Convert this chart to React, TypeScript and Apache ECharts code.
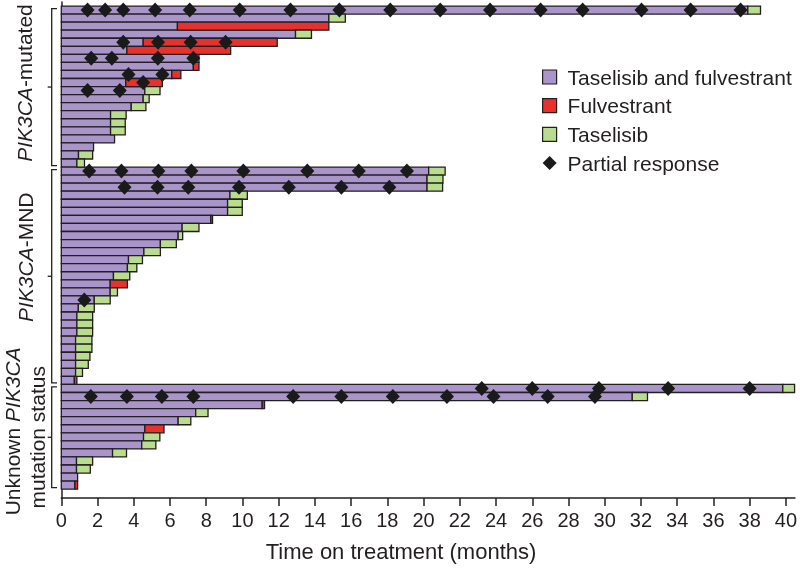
import React, { useEffect, useRef } from "react";
import * as echarts from "echarts";

// ---------- data (months) ----------
// PIK3CA-mutated (20 patients)
const mutatedCombo = [37.9, 14.77, 6.41, 12.93, 4.52, 3.62, 7.6, 7.29, 6.1, 3.56, 4.61, 4.52, 3.86, 2.72, 2.72, 2.72, 2.94, 1.78, 0.95, 0.86];
const mutatedFulv = [null, null, 14.77, null, 11.92, 9.35, null, 7.6, 6.6, 5.58, null, null, null, null, null, null, null, null, null, null];
const mutatedTasel = [38.6, 15.68, null, 13.81, null, null, null, null, null, null, 5.45, 4.85, 4.67, 3.58, 3.53, 3.53, null, null, 1.73, 1.28];
const mutatedPR: number[][] = [
  [1.45, 2.42, 3.42, 5.18, 7.09, 9.85, 12.65, 15.35, 18.16, 20.92, 23.67, 26.46, 28.78, 32.03, 34.74, 37.5],
  [], [], [],
  [3.42, 5.34, 7.14, 9.07],
  [],
  [1.65, 2.79, 5.33, 7.29],
  [],
  [3.71, 5.58],
  [4.52],
  [1.45, 3.23],
  [], [], [], [], [], [], [], [], [],
];

// PIK3CA-MND (27 patients)
const mndCombo = [20.28, 20.19, 20.19, 9.31, 9.18, 9.18, 8.25, 6.67, 6.45, 5.47, 4.56, 3.71, 3.65, 2.88, 2.7, 2.7, 1.82, 0.94, 0.86, 0.86, 0.86, 0.79, 0.79, 0.79, 0.79, 0.79, 0.72];
const mndFulv = [null, null, null, null, null, null, 8.35, null, null, null, null, null, null, null, 3.65, null, null, null, null, null, null, null, null, null, null, null, 0.86];
const mndTasel = [21.19, 21.07, 21.05, 10.27, 9.99, 9.99, null, 7.6, 6.7, 6.35, 5.47, 4.48, 4.17, 3.78, null, 3.1, 2.7, 1.82, 1.73, 1.73, 1.73, 1.69, 1.69, 1.58, 1.49, 1.17, null];
const mndPR: number[][] = [
  [1.54, 3.32, 5.36, 7.18, 10.05, 13.58, 16.42, 19.08],
  [],
  [3.49, 5.31, 7.01, 9.81, 12.56, 15.46, 18.11],
  [], [], [], [], [], [], [], [], [], [], [], [], [],
  [1.27],
  [], [], [], [], [], [], [], [], [], [],
];

// Unknown PIK3CA mutation status (13 patients)
const unknownCombo = [39.83, 31.52, 11.09, 7.42, 6.45, 4.61, 4.54, 4.44, 2.83, 0.84, 0.84, 0.9, 0.75];
const unknownFulv = [null, null, 11.22, null, null, 5.67, null, null, null, null, null, null, 0.9];
const unknownTasel = [40.48, 32.36, null, 8.1, 7.15, null, 5.44, 5.22, 3.6, 1.73, 1.6, null, null];
const unknownPR: number[][] = [
  [23.21, 26.0, 29.68, 33.5, 38.0],
  [1.63, 3.62, 5.55, 7.29, 12.8, 15.46, 18.3, 21.29, 23.86, 26.85, 29.46],
  [], [], [], [], [], [], [], [], [], [], [],
];

const xTicks = [0, 2, 4, 6, 8, 10, 12, 14, 16, 18, 20, 22, 24, 26, 28, 30, 32, 34, 36, 38, 40];

const seriesNames = ["Taselisib and fulvestrant", "Fulvestrant", "Taselisib", "Partial response"];

// ---------- styling ----------
const INK = "#231f20";
const PURPLE = "#a995c9";
const RED = "#e8302c";
const GREEN = "#b9dd8e";
const FONT = "Liberation Sans, Arial, sans-serif";

const groups = [
  { lines: ["{i|PIK3CA}-mutated"], combo: mutatedCombo, fulv: mutatedFulv, tasel: mutatedTasel, pr: mutatedPR },
  { lines: ["{i|PIK3CA}-MND"], combo: mndCombo, fulv: mndFulv, tasel: mndTasel, pr: mndPR },
  { lines: ["Unknown {i|PIK3CA}", "mutation status"], combo: unknownCombo, fulv: unknownFulv, tasel: unknownTasel, pr: unknownPR },
];

export default function App() {
  const ref = useRef<HTMLDivElement>(null);

  useEffect(() => {
    if (!ref.current) return;
    const chart = echarts.init(ref.current, undefined, { renderer: "svg" });

    const comboData: number[][] = [];
    const fulvData: number[][] = [];
    const taselData: number[][] = [];
    const prData: number[][] = [];
    const groupRanges: { first: number; last: number }[] = [];
    let row = 0;
    groups.forEach((g) => {
      const first = row;
      g.combo.forEach((c, k) => {
        comboData.push([0, c, row]);
        const f = g.fulv[k];
        if (f != null) fulvData.push([c, f, row]);
        const t = g.tasel[k];
        if (t != null) taselData.push([c, t, row]);
        (g.pr[k] || []).forEach((p) => prData.push([p, row]));
        row++;
      });
      groupRanges.push({ first, last: row - 1 });
    });

    const makeRender = (fill: string) => (params: any, api: any) => {
      const s = api.value(0);
      const e = api.value(1);
      const r = api.value(2);
      const p0 = api.coord([s, r]);
      const p1 = api.coord([e, r]);
      const h = api.size([0, 1])[1];
      return {
        type: "rect",
        shape: { x: p0[0], y: p0[1] - h / 2, width: p1[0] - p0[0], height: h },
        style: { fill, stroke: INK, lineWidth: 1.3 },
      };
    };

    const option: any = {
      animation: false,
      grid: { left: 61.3, right: 3.6, top: 2, bottom: 74, containLabel: false },
      legend: {
        orient: "vertical",
        left: 542,
        top: 66,
        padding: 0,
        itemWidth: 14,
        itemHeight: 14,
        itemGap: 6.7,
        selectedMode: false,
        textStyle: { fontFamily: FONT, fontSize: 21, color: INK, lineHeight: 22, padding: [0, 0, 0, 6] },
        data: [
          { name: seriesNames[0], icon: "rect", itemStyle: { color: PURPLE, borderColor: INK, borderWidth: 1.2 } },
          { name: seriesNames[1], icon: "rect", itemStyle: { color: RED, borderColor: INK, borderWidth: 1.2 } },
          { name: seriesNames[2], icon: "rect", itemStyle: { color: GREEN, borderColor: INK, borderWidth: 1.2 } },
          { name: seriesNames[3], icon: "diamond", itemStyle: { color: "#1a1a1a", opacity: 1 } },
        ],
      },
      xAxis: {
        type: "value",
        min: 0,
        max: 40.5,
        interval: 2,
        axisLine: { show: true, onZero: false, lineStyle: { color: INK, width: 1.5 } },
        axisTick: { show: true, length: 8, customValues: xTicks, lineStyle: { color: INK, width: 1.5 } },
        axisLabel: { customValues: xTicks, fontFamily: FONT, fontSize: 20, color: INK, margin: 12 },
        splitLine: { show: false },
      },
      yAxis: {
        type: "value",
        inverse: true,
        min: -1,
        max: 60.6,
        axisLine: { show: true, onZero: false, lineStyle: { color: INK, width: 1.5 } },
        axisTick: { show: false },
        axisLabel: { show: false },
        splitLine: { show: false },
      },
      series: [
        { type: "custom", name: seriesNames[0], data: comboData, encode: { x: [0, 1], y: 2 }, renderItem: makeRender(PURPLE), itemStyle: { color: PURPLE } },
        { type: "custom", name: seriesNames[1], data: fulvData, encode: { x: [0, 1], y: 2 }, renderItem: makeRender(RED), itemStyle: { color: RED } },
        { type: "custom", name: seriesNames[2], data: taselData, encode: { x: [0, 1], y: 2 }, renderItem: makeRender(GREEN), itemStyle: { color: GREEN } },
        { type: "scatter", name: seriesNames[3], data: prData, symbol: "diamond", symbolSize: [14, 15], itemStyle: { color: "#1a1a1a", opacity: 1 }, z: 5 },
      ],
    };
    chart.setOption(option);

    // brackets + group labels, positioned from the axis scale
    const toPx = (x: number, r: number) => chart.convertToPixel({ gridIndex: 0 }, [x, r]) as number[];
    const rowH = Math.abs(toPx(0, 1)[1] - toPx(0, 0)[1]);
    const graphics: any[] = [];
    const labelPos = [
      [[24, -4]],
      [[25.5, -19]],
      [[12, -6], [37, 0]],
    ];
    groupRanges.forEach((gr, gi) => {
      const top = toPx(0, gr.first)[1] - rowH / 2 + 2.5;
      const bottom = toPx(0, gr.last)[1] + rowH / 2 - 1.5;
      const mid = (top + bottom) / 2;
      const xl = 51.7;
      const xr = 57;
      graphics.push({
        type: "polyline",
        shape: { points: [[xr, top], [xl, top], [xl, bottom], [xr, bottom]] },
        style: { stroke: INK, lineWidth: 1.3, fill: null },
      });
      graphics.push({
        type: "line",
        shape: { x1: xl, y1: mid, x2: xl - 4, y2: mid },
        style: { stroke: INK, lineWidth: 1.3 },
      });
      groups[gi].lines.forEach((txt, li) => {
        const [lx, dy] = labelPos[gi][li];
        graphics.push({
          type: "text",
          x: lx,
          y: mid + dy,
          rotation: Math.PI / 2,
          style: {
            text: txt,
            fontFamily: FONT,
            fontSize: 21,
            fill: INK,
            align: "center",
            verticalAlign: "middle",
            rich: { i: { fontStyle: "italic", fontFamily: FONT, fontSize: 21, fill: INK } },
          },
        });
      });
    });
    graphics.push({
      type: "text",
      x: 401,
      y: 551,
      style: {
        text: "Time on treatment (months)",
        fontFamily: FONT,
        fontSize: 22,
        fill: INK,
        align: "center",
        verticalAlign: "middle",
      },
    });
    chart.setOption({ graphic: graphics });

    return () => chart.dispose();
  }, []);

  return <div ref={ref} style={{ position: "fixed", left: 0, top: 0, width: 800, height: 572 }} />;
}
